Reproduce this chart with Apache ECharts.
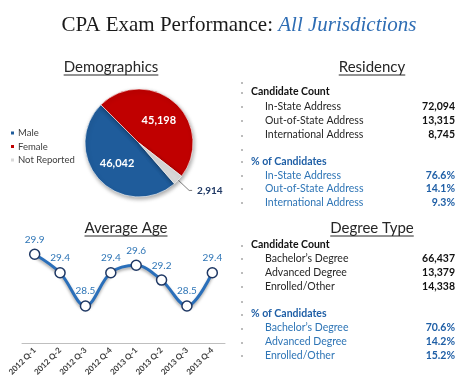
<!DOCTYPE html>
<html><head><meta charset="utf-8">
<script src="https://cdn.jsdelivr.net/npm/echarts@6/dist/echarts.min.js"></script>
<style>html,body{margin:0;padding:0;background:#fff}#c{width:464px;height:386px}</style>
</head><body><div id="c"></div>
<script>
const pieCategories = ['Male', 'Female', 'Not Reported'];
const pieValues = [46042, 45198, 2914];
const ageQuarters = ['2012 Q-1','2012 Q-2','2012 Q-3','2012 Q-4','2013 Q-1','2013 Q-2','2013 Q-3','2013 Q-4'];
const ageValues = [29.9, 29.4, 28.5, 29.4, 29.6, 29.2, 28.5, 29.4];
const residencyLabels = ['In-State Address', 'Out-of-State Address', 'International Address'];
const residencyCounts = [72094, 13315, 8745];
const residencyPcts = [76.6, 14.1, 9.3];
const degreeLabels = ['Bachelor\u2019s Degree', 'Advanced Degree', 'Enrolled/Other'];
const degreeCounts = [66437, 13379, 14338];
const degreePcts = [70.6, 14.2, 15.2];

const SANS = 'Lato, "Open Sans", sans-serif';
const pieColors = ['#1F5C9B', '#C00000', '#D9D9D9'];
const BLUE = '#2E75B6', DBLUE = '#1F5FA6';

const ctx = document.createElement('canvas').getContext('2d');
function tw(str, font){ ctx.font = font; return ctx.measureText(str).width; }
function fmt(n){ return n.toLocaleString('en-US'); }

const graphics = [];
// Title
graphics.push({type:'text', style:{x:239, y:25, text:'{a|CPA Exam Performance: }{b|All Jurisdictions}',
  textAlign:'center', textVerticalAlign:'middle',
  rich:{a:{font:'21px "Liberation Serif", serif', fill:'#1a1a1a'}, b:{font:'italic 21px "Liberation Serif", serif', fill:'#2E6DB4'}}}});

function header(text, cx, cy){
  const font = '15px ' + SANS;
  const w = tw(text, font);
  graphics.push({type:'text', style:{x:cx, y:cy, text, font, fill:'#262626', textAlign:'center', textVerticalAlign:'middle'}});
  graphics.push({type:'line', shape:{x1:cx-w/2, y1:cy+8, x2:cx+w/2, y2:cy+8}, style:{stroke:'#262626', lineWidth:1}});
}
header('Demographics', 111, 67);
header('Residency', 372, 67);
header('Average Age', 126, 228);
header('Degree Type', 372, 228);

function table(labels, counts, pcts, ys){
  ys.dots.forEach(y => graphics.push({type:'circle', shape:{cx:242, cy:y, r:0.8}, style:{fill:'#666'}}));
  const f = '10.5px ' + SANS, fb = 'bold 10.5px ' + SANS;
  graphics.push({type:'text', style:{x:251, y:ys.cc, text:'Candidate Count', font:fb, fill:'#111', textVerticalAlign:'middle'}});
  labels.forEach((l,i)=>{
    graphics.push({type:'text', style:{x:265, y:ys.cr[i], text:l, font:f, fill:'#262626', textVerticalAlign:'middle'}});
    graphics.push({type:'text', style:{x:455, y:ys.cr[i], text:fmt(counts[i]), font:fb, fill:'#111', textAlign:'right', textVerticalAlign:'middle'}});
  });
  graphics.push({type:'text', style:{x:251, y:ys.pc, text:'% of Candidates', font:fb, fill:DBLUE, textVerticalAlign:'middle'}});
  labels.forEach((l,i)=>{
    graphics.push({type:'text', style:{x:265, y:ys.pr[i], text:l, font:f, fill:BLUE, textVerticalAlign:'middle'}});
    graphics.push({type:'text', style:{x:455, y:ys.pr[i], text:pcts[i].toFixed(1)+'%', font:fb, fill:DBLUE, textAlign:'right', textVerticalAlign:'middle'}});
  });
}
table(residencyLabels, residencyCounts, residencyPcts, {
  dots:[83,93,107,121,136,150,162,176,189,203], cc:92, cr:[107,121,135], pc:162, pr:[176,189,203]});
table(degreeLabels, degreeCounts, degreePcts, {
  dots:[246,259,273,287,302,315,329,343,356], cc:245, cr:[259,273,287], pc:314, pr:[328,342,356]});

const labelStyles = [
  {show:true, position:'inside', color:'#fff', fontWeight:'bold', fontSize:11, fontFamily:SANS},
  {show:true, position:'inside', color:'#fff', fontWeight:'bold', fontSize:11, fontFamily:SANS},
  {show:true, position:'outside', color:'#1F3864', fontWeight:'bold', fontSize:10, fontFamily:SANS}
];

const chart = echarts.init(document.getElementById('c'), null, {renderer:'canvas'});
chart.setOption({
  animation:false,
  graphic: graphics,
  legend:{orient:'vertical', left:4, top:123, itemWidth:5, itemHeight:5, itemGap:3.5, icon:'rect',
    data:pieCategories, textStyle:{fontSize:9.5, color:'#404040', fontFamily:SANS, padding:[0,0,0,-2]}},
  grid:{left:22, right:239, top:232, bottom:43},
  xAxis:{type:'category', data:ageQuarters, axisTick:{show:false},
    axisLine:{lineStyle:{color:'#BFBFBF', width:1}},
    axisLabel:{rotate:45, fontSize:8, fontWeight:'bold', color:'#404040', fontFamily:SANS, margin:6, interval:0}},
  yAxis:{type:'value', min:27.5, max:30.5, show:false, splitLine:{show:false}},
  series:[
    {type:'pie', center:[139,143], radius:54, startAngle:311, clockwise:true,
      color:pieColors,
      itemStyle:{borderColor:'#fff', borderWidth:0.6, shadowBlur:4, shadowOffsetX:1, shadowOffsetY:2, shadowColor:'rgba(0,0,0,0.35)'},
      labelLine:{length:15, length2:3, lineStyle:{color:'#7F7F7F', width:1}},
      data: pieCategories.map((n,i)=>({name:n, value:pieValues[i], label:Object.assign({formatter:p=>fmt(p.value)}, labelStyles[i])})),
      emphasis:{disabled:true}},
    {type:'line', data:ageValues, smooth:0.35, symbol:'circle', symbolSize:10,
      lineStyle:{color:'#2A6FBA', width:3, shadowBlur:3, shadowOffsetY:2, shadowColor:'rgba(0,0,0,0.35)'},
      itemStyle:{color:'#fff', borderColor:'#1F3864', borderWidth:1.5},
      label:{show:true, position:'top', distance:4, fontSize:10, color:BLUE, fontFamily:SANS, formatter:p=>p.value.toFixed(1)}}
  ]
});
</script></body></html>
